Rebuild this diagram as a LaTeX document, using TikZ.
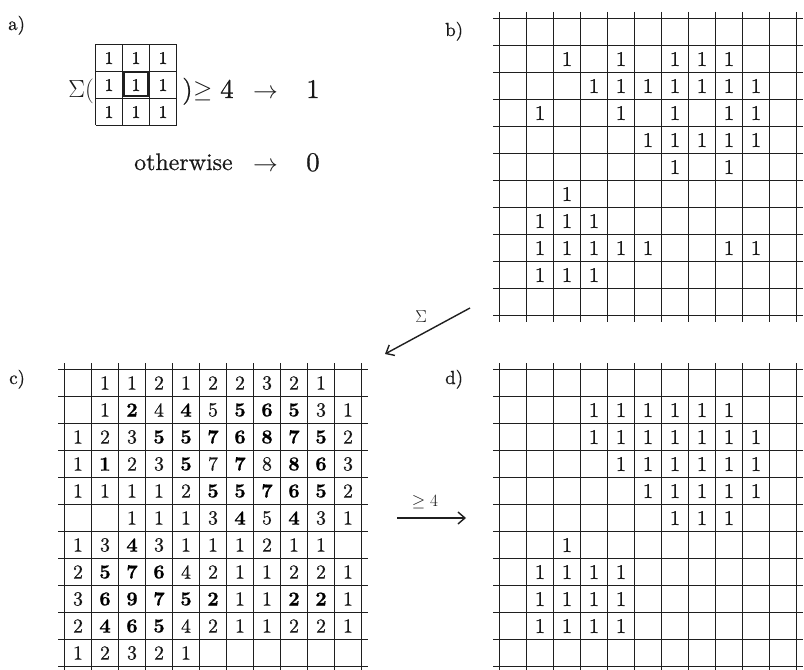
\documentclass[tikz,border=0pt]{standalone}
\usepackage{fontspec}
\setmainfont{lmroman10-regular.otf}[BoldFont=lmroman10-bold.otf, FakeBold=0.6]
\usetikzlibrary{arrows.meta}
\newcommand\mygrid[4]{% #1 x0, #2 y0, #3 cell size, #4 number of cells
  \foreach \ii in {0,...,#4} {
    \draw[gridline] ({#1+\ii*#3},{#2-6.5}) -- ({#1+\ii*#3},{#2+#4*#3+6.5});
    \draw[gridline] ({#1-6.5},{#2+\ii*#3}) -- ({#1+#4*#3+6.5},{#2+\ii*#3});
  }}
\begin{document}
\begin{tikzpicture}[x=1bp,y=-1bp,
  gridline/.style={line width=1.4bp, draw=black!88},
  celltxt/.style={inner sep=0pt, font=\fontsize{20}{20}\selectfont, text=black!90},
  onetxt/.style={inner sep=0pt, font=\fontsize{21}{21}\selectfont, text=black!90},
  boldtxt/.style={inner sep=0pt, font=\fontsize{20}{20}\selectfont\bfseries, text=black},
  smalltxt/.style={inner sep=0pt, font=\fontsize{18}{18}\selectfont, text=black!90},
  lbl/.style={inner sep=0pt, font=\fontsize{19}{19}\selectfont, text=black!90},
  formula/.style={inner sep=0pt, font=\fontsize{27}{27}\selectfont, text=black!90},
  bigarrow/.style={inner sep=0pt, font=\fontsize{32}{32}\selectfont, text=black!90},
  flow/.style={line width=1.4bp, draw=black!88, -{Straight Barb[length=7pt,width=12pt]}},
]
\useasboundingbox[fill=white] (0,0) rectangle (804,670);

% ---------- panel labels ----------
\node[lbl,anchor=base west] (la) at (8,30) {a)};
\node[lbl,anchor=base west] (lb) at (445,36) {b)};
\node[lbl,anchor=base west] (lc) at (9,384) {c)};
\node[lbl,anchor=base west] (ld) at (445,384) {d)};

% ---------- panel a ----------
\foreach \ii in {0,...,3} {
  \draw[gridline] ({95.5+\ii*27},44.5) -- ({95.5+\ii*27},125.5);
  \draw[gridline] (95.5,{44.5+\ii*27}) -- (176.5,{44.5+\ii*27});
}
\foreach \rr in {0,1,2} {
  \foreach \cc in {0,1,2} {
    \node[smalltxt] (a-\rr-\cc) at ({95.5+(\cc+0.5)*27},{44.5+(\rr+0.5)*27}) {1};
  }
}
\draw[line width=2bp, draw=black!88] (123.5,72.5) rectangle (147.5,96.5);
\node[formula,anchor=base east] (sig) at (94,98) {$\Sigma($};
\node[formula,anchor=base west] (rp) at (182,98) {)};
\node[formula,anchor=base west] (ge) at (193,98) {$\geq$};
\node[formula,anchor=base west] (four) at (220,98) {4};
\node[bigarrow,anchor=base west] (arr1) at (253,99) {$\rightarrow$};
\node[formula,anchor=base west] (one) at (306,98) {1};
\node[inner sep=0pt, font=\fontsize{24}{24}\selectfont, text=black!90, anchor=base west] (oth) at (134,170) {otherwise};
\node[bigarrow,anchor=base west] (arr2) at (253,171) {$\rightarrow$};
\node[formula,anchor=base west] (zero) at (306,171) {0};

% ---------- panel b ----------
\mygrid{499.5}{18.5}{27}{11}
\foreach \rowv [count=\rr from 0] in {
  {0,0,0,0,0,0,0,0,0,0,0},
  {0,0,1,0,1,0,1,1,1,0,0},
  {0,0,0,1,1,1,1,1,1,1,0},
  {0,1,0,0,1,0,1,0,1,1,0},
  {0,0,0,0,0,1,1,1,1,1,0},
  {0,0,0,0,0,0,1,0,1,0,0},
  {0,0,1,0,0,0,0,0,0,0,0},
  {0,1,1,1,0,0,0,0,0,0,0},
  {0,1,1,1,1,1,0,0,1,1,0},
  {0,1,1,1,0,0,0,0,0,0,0},
  {0,0,0,0,0,0,0,0,0,0,0}} {
  \foreach \v [count=\cc from 0] in \rowv {
    \ifnum\v=1
      \node[onetxt] (b-\rr-\cc) at ({499.5+(\cc+0.5)*27},{18.5+(\rr+0.5)*27}) {1};
    \fi
  }
}

% ---------- panel c ----------
\mygrid{64.5}{369.5}{27}{11}
\foreach \rowv [count=\rr from 0] in {
  {0,1,1,2,1,2,2,3,2,1,0},
  {0,1,12,4,14,5,15,16,15,3,1},
  {1,2,3,15,15,17,16,18,17,15,2},
  {1,11,2,3,15,7,17,8,18,16,3},
  {1,1,1,1,2,15,15,17,16,15,2},
  {0,0,1,1,1,3,14,5,14,3,1},
  {1,3,14,3,1,1,1,2,1,1,0},
  {2,15,17,16,4,2,1,1,2,2,1},
  {3,16,19,17,15,12,1,1,12,12,1},
  {2,14,16,15,4,2,1,1,2,2,1},
  {1,2,3,2,1,0,0,0,0,0,0}} {
  \foreach \v [count=\cc from 0] in \rowv {
    \ifnum\v>9
      \pgfmathtruncatemacro\ww{\v-10}
      \node[boldtxt] (c-\rr-\cc) at ({64.5+(\cc+0.5)*27},{369.5+(\rr+0.5)*27}) {\ww};
    \else\ifnum\v>0
      \node[celltxt] (c-\rr-\cc) at ({64.5+(\cc+0.5)*27},{369.5+(\rr+0.5)*27}) {\v};
    \fi\fi
  }
}

% ---------- panel d ----------
\mygrid{499.5}{369.5}{27}{11}
\foreach \rowv [count=\rr from 0] in {
  {0,0,0,0,0,0,0,0,0,0,0},
  {0,0,0,1,1,1,1,1,1,0,0},
  {0,0,0,1,1,1,1,1,1,1,0},
  {0,0,0,0,1,1,1,1,1,1,0},
  {0,0,0,0,0,1,1,1,1,1,0},
  {0,0,0,0,0,0,1,1,1,0,0},
  {0,0,1,0,0,0,0,0,0,0,0},
  {0,1,1,1,1,0,0,0,0,0,0},
  {0,1,1,1,1,0,0,0,0,0,0},
  {0,1,1,1,1,0,0,0,0,0,0},
  {0,0,0,0,0,0,0,0,0,0,0}} {
  \foreach \v [count=\cc from 0] in \rowv {
    \ifnum\v=1
      \node[onetxt] (d-\rr-\cc) at ({499.5+(\cc+0.5)*27},{369.5+(\rr+0.5)*27}) {1};
    \fi
  }
}

% ---------- arrows ----------
\coordinate (s1) at (470,308);
\coordinate (s2) at (385,354);
\draw[flow] (s1) -- (s2);
\node[inner sep=0pt, font=\fontsize{19}{19}\selectfont, text=black!90] (sl) at (421,317) {$\Sigma$};
\coordinate (g1) at (397,518);
\coordinate (g2) at (466,518);
\draw[flow] (g1) -- (g2);
\node[inner sep=0pt, font=\fontsize{19}{19}\selectfont, text=black!90] (gl) at (425,502) {$\geq 4$};
\end{tikzpicture}
\end{document}
